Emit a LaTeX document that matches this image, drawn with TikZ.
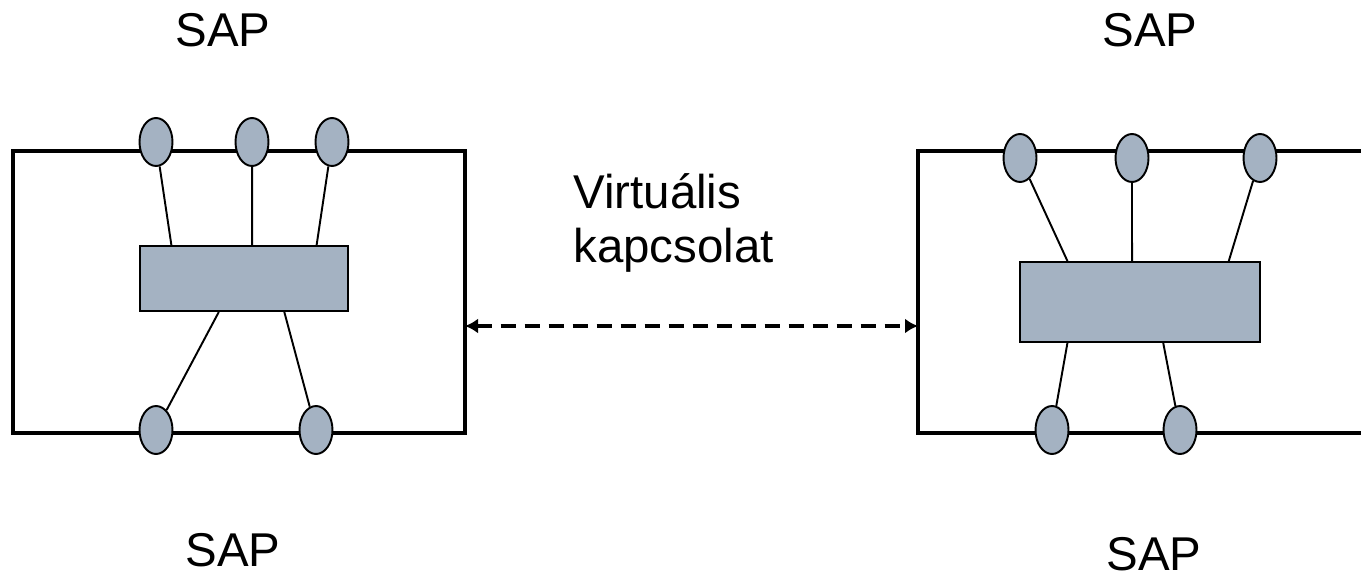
\documentclass[tikz,border=0pt]{standalone}
\usepackage{fontspec}
\setmainfont{Liberation Sans}
\usetikzlibrary{calc, shapes.geometric, arrows.meta}

\definecolor{sapgray}{RGB}{164,178,194}
\tikzset{
  sap/.style={ellipse, draw, line width=1.1pt, fill=sapgray,
    minimum width=0.66cm, minimum height=0.96cm, inner sep=0pt},
  entity/.style={rectangle, draw, line width=1.1pt, fill=sapgray, inner sep=0pt},
  frame/.style={line width=2.7pt},
  wire/.style={line width=1.1pt},
  txt/.style={font=\fontsize{27}{31}\selectfont, inner sep=0pt}
}

\begin{document}
\begin{tikzpicture}[x=0.02cm, y=-0.02cm]
            \useasboundingbox (0,0) rectangle (1361,577);
            % the two layers
            \coordinate (LA) at (13,151);
            \coordinate (LB) at (465,433);
            \coordinate (RA) at (918,151);
            \coordinate (RB) at (1362,433);
            \draw[frame] (LA) rectangle (LB);
            \draw[frame] (RB |- RA) -- (RA) -- (RA |- RB) -- (RB);
            % entities
            \node[entity, minimum width=4.16cm, minimum height=1.3cm] (lent) at (244,278.5) {};
            \node[entity, minimum width=4.8cm, minimum height=1.6cm] (rent) at (1140,302) {};
            % service access points
            \node[sap] (lt1) at (156,142) {};
            \node[sap] (lt2) at (252,142) {};
            \node[sap] (lt3) at (332,142) {};
            \node[sap] (lb1) at (156,430) {};
            \node[sap] (lb2) at (316,430) {};
            \node[sap] (rt1) at (1020,158) {};
            \node[sap] (rt2) at (1132,158) {};
            \node[sap] (rt3) at (1260,158) {};
            \node[sap] (rb1) at (1052,430) {};
            \node[sap] (rb2) at (1180,430) {};
            % wires
            \draw[wire] (lt1) -- ($(lent.north west)!0.154!(lent.north east)$);
            \draw[wire] (lt2) -- ($(lent.north west)!0.539!(lent.north east)$);
            \draw[wire] (lt3) -- ($(lent.north west)!0.846!(lent.north east)$);
            \draw[wire] ($(lent.south west)!0.38!(lent.south east)$) -- (lb1);
            \draw[wire] ($(lent.south west)!0.692!(lent.south east)$) -- (lb2);
            \draw[wire] (rt1) -- ($(rent.north west)!0.2!(rent.north east)$);
            \draw[wire] (rt2) -- ($(rent.north west)!0.467!(rent.north east)$);
            \draw[wire] (rt3) -- ($(rent.north west)!0.867!(rent.north east)$);
            \draw[wire] ($(rent.south west)!0.2!(rent.south east)$) -- (rb1);
            \draw[wire] ($(rent.south west)!0.596!(rent.south east)$) -- (rb2);
            % virtual link
            \coordinate (vl) at (465,326);
            \coordinate (vr) at (918,326);
            \draw[line width=1.9pt, dash pattern=on 0.3cm off 0.18cm,
              {Latex[length=0.26cm,width=0.3cm]}-{Latex[length=0.26cm,width=0.3cm]}] (vl) -- (vr);
            \node[txt, anchor=base west, align=left] (virt) at (573,263) {Virtuális\\kapcsolat};
            % labels
            \node[txt] (sap1) at (223,30) {SAP};
            \node[txt] (sap2) at (1150,30) {SAP};
            \node[txt] (sap3) at (233,550) {SAP};
            \node[txt] (sap4) at (1154,554) {SAP};
\end{tikzpicture}
\end{document}
